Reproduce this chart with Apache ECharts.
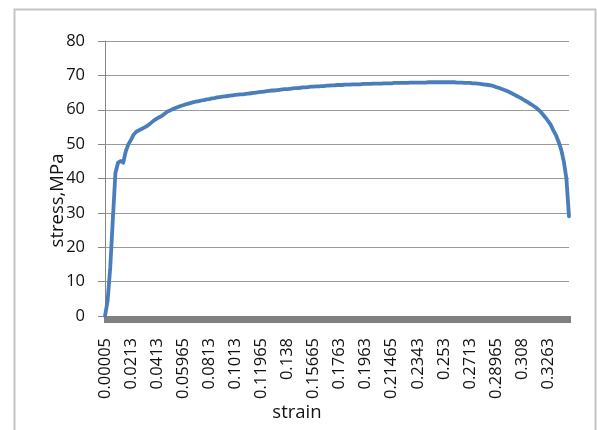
<!DOCTYPE html>
<html>
<head>
<meta charset="utf-8">
<script src="https://cdn.jsdelivr.net/npm/echarts@6/dist/echarts.min.js"></script>
<style>
html,body{margin:0;padding:0;background:#fff;}
#chart{width:597px;height:430px;}
</style>
</head>
<body>
<div id="chart"></div>
<script>
// Category axis: strain values (every 10th is a shown tick label)
var strain = [
"0.00005","0.00218","0.0043","0.00643","0.00855","0.01068","0.0128","0.01493","0.01705","0.01918",
"0.0213","0.0233","0.0253","0.0273","0.0293","0.0313","0.0333","0.0353","0.0373","0.0393",
"0.0413","0.04314","0.04497","0.04681","0.04864","0.05048","0.05231","0.05415","0.05598","0.05782",
"0.05965","0.06182","0.06398","0.06615","0.06831","0.07048","0.07264","0.07481","0.07697","0.07914",
"0.0813","0.0833","0.0853","0.0873","0.0893","0.0913","0.0933","0.0953","0.0973","0.0993",
"0.1013","0.10314","0.10497","0.10681","0.10864","0.11048","0.11231","0.11415","0.11598","0.11782",
"0.11965","0.12149","0.12332","0.12516","0.12699","0.12883","0.13066","0.1325","0.13433","0.13617",
"0.138","0.13987","0.14173","0.1436","0.14546","0.14733","0.14919","0.15106","0.15292","0.15479",
"0.15665","0.15862","0.16058","0.16255","0.16451","0.16648","0.16844","0.17041","0.17237","0.17434",
"0.1763","0.1783","0.1803","0.1823","0.1843","0.1863","0.1883","0.1903","0.1923","0.1943",
"0.1963","0.19814","0.19997","0.20181","0.20364","0.20548","0.20731","0.20915","0.21098","0.21282",
"0.21465","0.21662","0.21858","0.22055","0.22251","0.22448","0.22644","0.22841","0.23037","0.23234",
"0.2343","0.23617","0.23804","0.23991","0.24178","0.24365","0.24552","0.24739","0.24926","0.25113",
"0.253","0.25483","0.25666","0.25849","0.26032","0.26215","0.26398","0.26581","0.26764","0.26947",
"0.2713","0.27314","0.27497","0.27681","0.27864","0.28048","0.28231","0.28415","0.28598","0.28782",
"0.28965","0.29149","0.29332","0.29516","0.29699","0.29883","0.30066","0.3025","0.30433","0.30617",
"0.308","0.30983","0.31166","0.31349","0.31532","0.31715","0.31898","0.32081","0.32264","0.32447",
"0.3263","0.32813","0.32996","0.33179","0.33362","0.33545","0.33728","0.33911","0.34094"
];

// Stress, MPa (one value per strain category)
var stress = [
0,4.4,14,28,41.6,44.6,45.1,44.6,48.0,50.0,
51.3,52.8,53.6,54.0,54.4,54.8,55.2,55.8,56.4,57.0,
57.5,57.9,58.3,58.9,59.5,59.8,60.2,60.5,60.8,61.1,
61.3,61.6,61.8,62.0,62.2,62.4,62.5,62.7,62.8,63.0,
63.1,63.3,63.4,63.6,63.7,63.8,63.9,64.0,64.1,64.2,
64.3,64.4,64.5,64.5,64.6,64.7,64.8,64.9,65.0,65.1,
65.2,65.3,65.4,65.5,65.6,65.6,65.7,65.8,65.9,66.0,
66.0,66.1,66.2,66.3,66.3,66.4,66.5,66.5,66.6,66.7,
66.7,66.8,66.8,66.9,66.9,67.0,67.0,67.1,67.1,67.2,
67.2,67.2,67.3,67.3,67.3,67.4,67.4,67.4,67.4,67.5,
67.5,67.5,67.5,67.6,67.6,67.6,67.6,67.7,67.7,67.7,
67.7,67.8,67.8,67.8,67.8,67.8,67.8,67.9,67.9,67.9,
67.9,67.9,67.9,67.9,68.0,68.0,68.0,68.0,68.0,68.0,
68.0,68.0,68.0,68.0,68.0,67.9,67.9,67.9,67.8,67.8,
67.8,67.7,67.7,67.6,67.5,67.4,67.3,67.2,67.1,66.9,
66.6,66.4,66.1,65.8,65.5,65.2,64.8,64.4,64.0,63.6,
63.2,62.7,62.3,61.8,61.3,60.8,60.2,59.5,58.6,57.7,
56.7,55.6,54.0,52.6,50.7,48.4,45.0,40.0,29.0
];

var yTicks = {min: 0, max: 80, interval: 10};

var FONT = '"Open Sans", "Liberation Sans", sans-serif';
var chart = echarts.init(document.getElementById('chart'), null, {renderer: 'canvas'});
chart.setOption({
  backgroundColor: '#ffffff',
  animation: false,
  graphic: [{
    type: 'rect', left: 12, top: 7, silent: true,
    shape: {width: 581, height: 440},
    style: {fill: 'none', stroke: '#c4c4c4', lineWidth: 2}
  }],
  grid: {left: 105, right: 28, top: 41, bottom: 114, containLabel: false},
  xAxis: {
    type: 'category',
    data: strain,
    boundaryGap: false,
    name: 'strain',
    nameLocation: 'middle',
    nameGap: 87,
    nameMoveOverlap: false,
    nameTextStyle: {fontFamily: FONT, fontSize: 18.5, color: '#111', padding: [0, 80, 0, 0]},
    axisLine: {show: true, lineStyle: {color: '#868686', width: 1}},
    axisTick: {show: true, interval: 0, length: 7, lineStyle: {color: '#808080', width: 3}},
    axisLabel: {interval: 9, rotate: 90, margin: 22, fontFamily: FONT, fontSize: 16.5, color: '#111'},
    splitLine: {show: false}
  },
  yAxis: {
    type: 'value',
    min: yTicks.min, max: yTicks.max, interval: yTicks.interval,
    name: 'stress,MPa',
    nameLocation: 'middle',
    nameGap: 38,
    nameMoveOverlap: false,
    nameTextStyle: {fontFamily: FONT, fontSize: 18.5, color: '#111', padding: [0, 44, 0, 0]},
    axisLine: {show: true, lineStyle: {color: '#868686', width: 1}},
    axisTick: {show: true, length: 7, inside: false, lineStyle: {color: '#868686'}},
    axisLabel: {margin: 20, fontFamily: FONT, fontSize: 16.5, color: '#111'},
    splitLine: {show: true, lineStyle: {color: '#9a9a9a', width: 1}}
  },
  series: [{
    type: 'line',
    data: stress,
    showSymbol: false,
    symbol: 'none',
    smooth: false,
    lineStyle: {color: '#4A7EBB', width: 3.8, join: 'round', cap: 'round'},
    z: 5
  }]
});
</script>
</body>
</html>
